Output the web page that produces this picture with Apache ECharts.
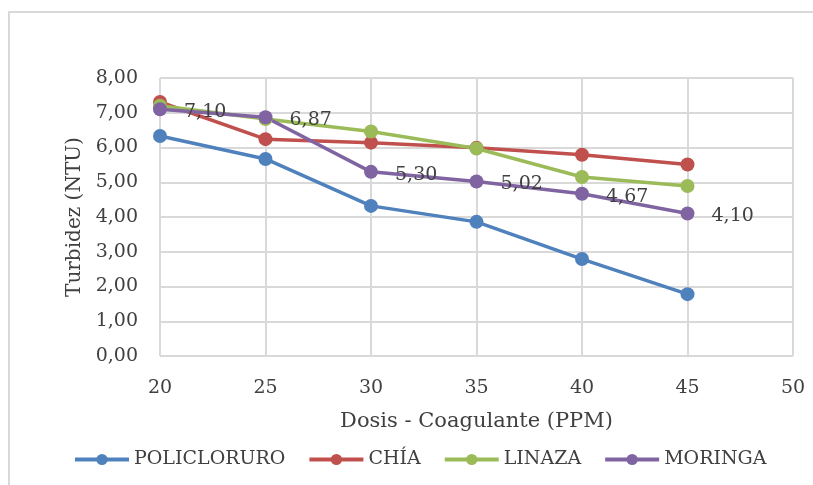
<!DOCTYPE html>
<html><head><meta charset="utf-8">
<script src="https://cdn.jsdelivr.net/npm/echarts@6/dist/echarts.min.js"></script>
<style>html,body{margin:0;padding:0;background:#fff}#c{width:813px;height:485px}
#frame{position:absolute;left:8px;top:11px;width:900px;height:600px;border:2px solid #d9d9d9;box-sizing:border-box;pointer-events:none}</style>
</head><body><div id="frame"></div><div id="c"></div>
<script>
const categories = [20, 25, 30, 35, 40, 45];
const policloruro = [6.33, 5.67, 4.32, 3.86, 2.79, 1.78];
const chia = [7.31, 6.24, 6.14, 5.99, 5.79, 5.51];
const linaza = [7.20, 6.82, 6.46, 5.97, 5.15, 4.89];
const moringa = [7.10, 6.87, 5.30, 5.02, 4.67, 4.10];
const yTicks = [0, 1, 2, 3, 4, 5, 6, 7, 8];

const serif = "'DejaVu Serif', 'Liberation Serif', serif";
const fmt = v => v.toFixed(2).replace('.', ',');
const pairs = arr => categories.map((c, i) => [c, arr[i]]);
function mk(name, arr, color, withLabel) {
  return {
    name, type: 'line', data: pairs(arr), symbol: 'circle', symbolSize: 14,
    lineStyle: { width: 3.5, color }, itemStyle: { color },
    label: withLabel ? { show: true, position: 'right', distance: 17, offset: [0, 3], color: '#404040',
      fontFamily: serif, fontSize: 19, formatter: p => fmt(p.value[1]) } : { show: false }
  };
}
const chart = echarts.init(document.getElementById('c'));
chart.setOption({
  animation: false,
  color: ['#4F81BD', '#C0504D', '#9BBB59', '#8064A2'],
  grid: { left: 160, right: 20, top: 78, bottom: 129 },
  legend: {
    top: 445, left: 68, itemWidth: 54, itemHeight: 14, itemGap: 22,
    lineStyle: { width: 4 },
    textStyle: { fontFamily: serif, fontSize: 19, color: '#404040', padding: [0, 0, 0, 0] },
    data: ['POLICLORURO', 'CHÍA', 'LINAZA', 'MORINGA']
  },
  xAxis: {
    type: 'value', min: 20, max: 50, interval: 5,
    name: 'Dosis - Coagulante (PPM)', nameLocation: 'middle', nameGap: 55,
    nameTextStyle: { fontFamily: serif, fontSize: 21, color: '#404040' },
    axisLine: { show: false }, axisTick: { show: false },
    axisLabel: { fontFamily: serif, fontSize: 19, color: '#404040', margin: 23 },
    splitLine: { show: true, lineStyle: { color: '#d9d9d9', width: 2 } }
  },
  yAxis: {
    type: 'value', min: 0, max: 8, interval: 1,
    name: 'Turbidez (NTU)', nameLocation: 'middle', nameGap: 73,
    nameTextStyle: { fontFamily: serif, fontSize: 20, color: '#404040' },
    axisLine: { show: false }, axisTick: { show: false },
    axisLabel: { fontFamily: serif, fontSize: 19, color: '#404040', margin: 22,
      formatter: v => yTicks.includes(v) ? fmt(v) : '' },
    splitLine: { show: true, lineStyle: { color: '#d9d9d9', width: 2 } }
  },
  series: [
    mk('POLICLORURO', policloruro, '#4F81BD', false),
    mk('CHÍA', chia, '#C0504D', false),
    mk('LINAZA', linaza, '#9BBB59', false),
    mk('MORINGA', moringa, '#8064A2', true)
  ]
});
</script></body></html>
